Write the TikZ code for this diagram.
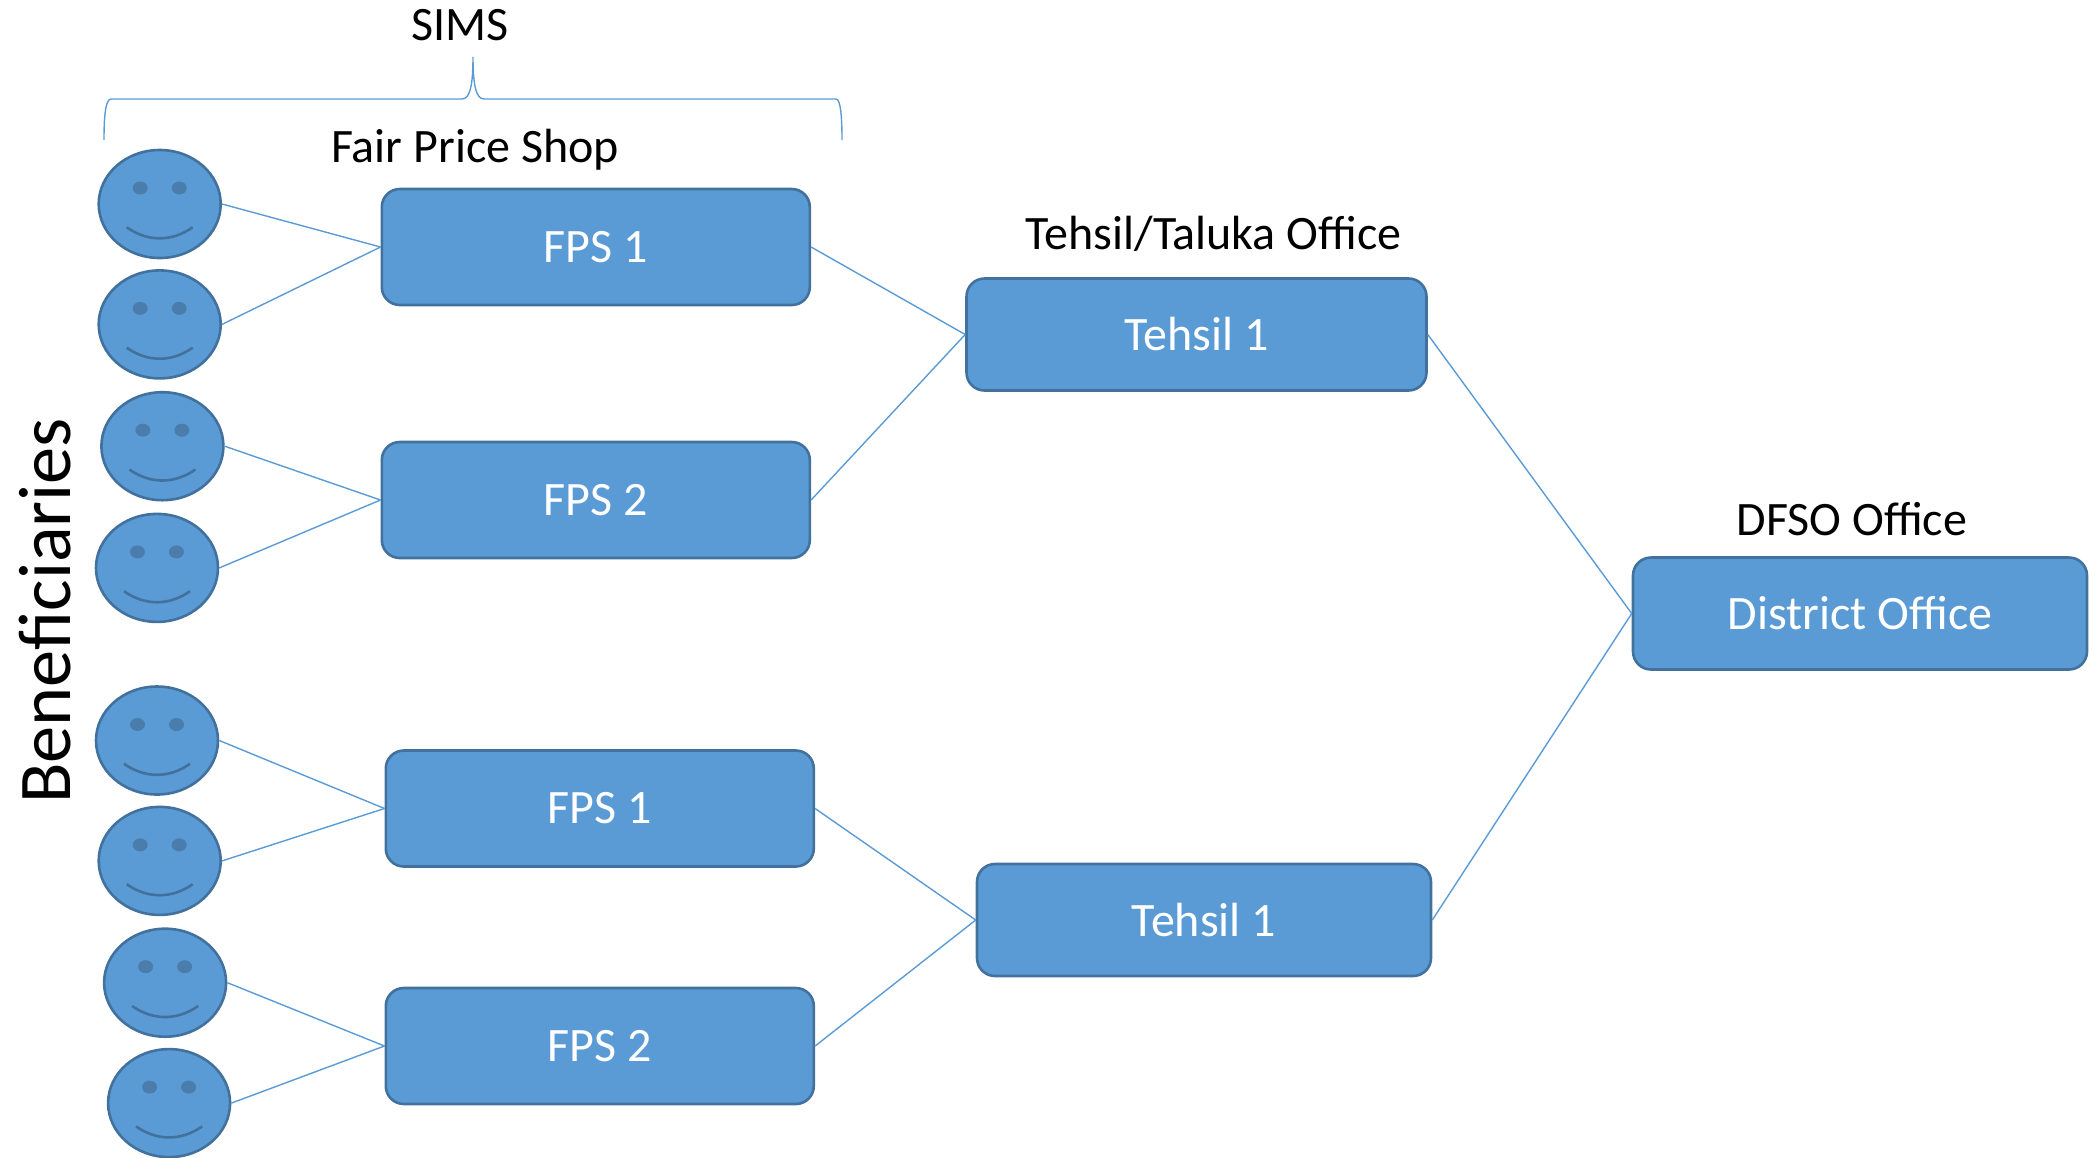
\documentclass[tikz,border=0pt]{standalone}
\usepackage{fontspec}
\setmainfont{Carlito}
\usetikzlibrary{shapes.geometric}
\definecolor{boxfill}{HTML}{5B9BD5}
\definecolor{boxline}{HTML}{41719C}
\definecolor{eyefill}{HTML}{4A7DAB}
\tikzset{
officebox/.style={
  draw=boxline,
  fill=boxfill,
  line width=1.3pt,
  rounded corners=9pt,
  text=white,
  align=center,
  font=\fontsize{24}{28}\selectfont
},
fpsbox/.style={officebox, minimum width=214pt, minimum height=58pt},
tehsilbox/.style={officebox, minimum width=227pt, minimum height=56pt},
facebox/.style={
  draw=boxline,
  fill=boxfill,
  line width=1.3pt,
  ellipse,
  inner sep=0pt,
  minimum width=61pt,
  minimum height=54pt
},
wire/.style={draw=boxfill, line width=0.7pt},
caption/.style={black, inner sep=0pt, font=\fontsize{24}{28}\selectfont}
}
\newcommand{\smiley}[3]{
  \node[facebox] (#1) at (#2,#3) {};
  \begin{scope}[shift={(#2,#3)}]
    \fill[eyefill] (-19.5,-16) ellipse (7.5 and 6.5);
    \fill[eyefill] (19.5,-16) ellipse (7.5 and 6.5);
    \draw[boxline, line width=1.3pt] (-33,23.3) .. controls (-12,38) and (12,38) .. (33,23.3);
  \end{scope}
}

\begin{document}
\begin{tikzpicture}[x=0.5pt,y=-0.5pt]
  \useasboundingbox (0,0) rectangle (2098,1157);

  \smiley{faceA}{159.7}{204}
  \smiley{faceB}{159.7}{324.4}
  \smiley{faceC}{162.4}{446.2}
  \smiley{faceD}{157}{567.9}
  \smiley{faceE}{157}{740.5}
  \smiley{faceF}{159.7}{860.9}
  \smiley{faceG}{165.1}{982.7}
  \smiley{faceH}{169.1}{1103.1}

  \node[fpsbox] (fpsA) at (595.8,247) {FPS 1};
  \node[fpsbox] (fpsB) at (595.8,500) {FPS 2};
  \node[fpsbox] (fpsC) at (599.8,808.5) {FPS 1};
  \node[fpsbox] (fpsD) at (599.8,1046) {FPS 2};
  \node[tehsilbox,minimum width=230pt] (tehsilA) at (1196.5,334.5) {Tehsil 1};
  \node[tehsilbox] (tehsilB) at (1204,920) {Tehsil 1};
  \node[tehsilbox] (district) at (1860,613.5) {District Office};

  \draw[wire] (faceA.east) -- (fpsA.west);
  \draw[wire] (faceB.east) -- (fpsA.west);
  \draw[wire] (faceC.east) -- (fpsB.west);
  \draw[wire] (faceD.east) -- (fpsB.west);
  \draw[wire] (faceE.east) -- (fpsC.west);
  \draw[wire] (faceF.east) -- (fpsC.west);
  \draw[wire] (faceG.east) -- (fpsD.west);
  \draw[wire] (faceH.east) -- (fpsD.west);
  \draw[wire] (fpsA.east) -- (tehsilA.west);
  \draw[wire] (fpsB.east) -- (tehsilA.west);
  \draw[wire] (fpsC.east) -- (tehsilB.west);
  \draw[wire] (fpsD.east) -- (tehsilB.west);
  \draw[wire] (tehsilA.east) -- (district.west);
  \draw[wire] (tehsilB.east) -- (district.west);

  \node[caption] (shopLabel) at (475,150) {Fair Price Shop};
  \node[caption] (simsLabel) at (460,25) {SIMS};
  \node[caption] (tehsilLabel) at (1213.5,234) {Tehsil/Taluka Office};
  \node[caption] (dfsoLabel) at (1852,519) {DFSO Office};
  \node[caption,rotate=90,font=\fontsize{37.2}{44}\selectfont] (beneficiaries) at (45,611) {Beneficiaries};

  % curly bracket above the shops
  \coordinate (braceTip) at (473,57);
  \draw[wire] (104,140) .. controls (104,120) and (105,99) .. (111,99)
    -- (462,99) .. controls (470,99) and (473,85) .. (braceTip)
    .. controls (473,85) and (476,99) .. (484,99)
    -- (836,99) .. controls (841,99) and (842,120) .. (842,140);
\end{tikzpicture}
\end{document}
